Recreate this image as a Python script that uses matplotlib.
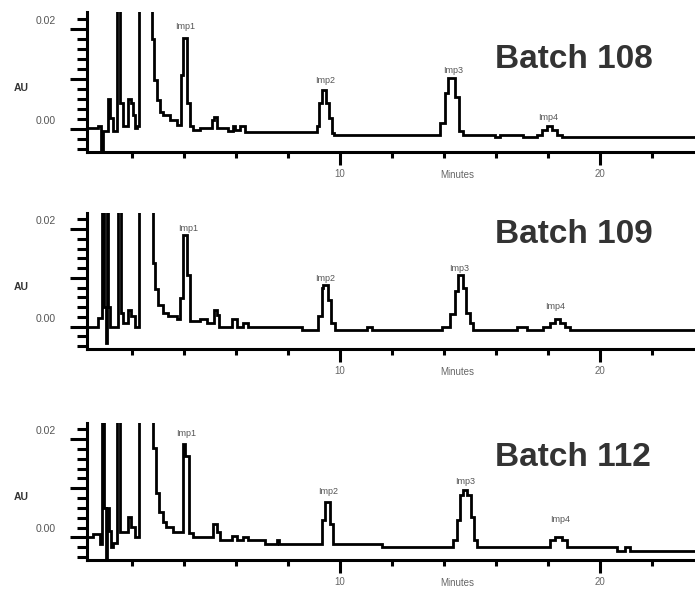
import matplotlib.pyplot as plt
import matplotlib.transforms as mtransforms
from matplotlib.ticker import FixedLocator

plt.rcParams['font.family'] = ['Liberation Sans', 'DejaVu Sans']

OFF = 0.05  # solvent / system peaks that run off the top of the scale

batches = ['Batch 108', 'Batch 109', 'Batch 112']
imp_names = ['Imp1', 'Imp2', 'Imp3', 'Imp4']

# Batch 108 trace (minutes, AU), stepwise
t_108 = [0.28, 0.71, 0.79, 0.90, 1.06, 1.15, 1.28, 1.44, 1.54, 1.67, 1.86, 1.96,
         2.05, 2.12, 2.18, 2.28, 2.76, 2.85, 2.95, 3.08, 3.21, 3.46, 3.72, 3.87,
         3.97, 4.10, 4.23, 4.36, 4.62, 5.06, 5.15, 5.26, 5.71, 5.90, 5.96, 6.15,
         6.35, 9.10, 9.21, 9.29, 9.46, 9.59, 9.68, 9.78, 13.85, 14.04, 14.17, 14.42,
         14.59, 14.74, 15.96, 16.15, 17.05, 17.56, 17.76, 17.95, 18.14, 18.33, 18.53, 23.8]
au_108 = [0.0001, 0.0006, -0.0042, -0.0005, 0.0059, 0.0021, -0.0005, OFF, 0.0051, 0.0006, 0.0059, 0.0051,
          0.0028, 0.0001, 0.0006, OFF, 0.0180, 0.0097, 0.0057, 0.0034, 0.0028, 0.0018, 0.0008, 0.0107,
          0.0182, 0.0051, 0.0006, -0.0002, 0.0001, 0.0018, 0.0024, 0.0001, -0.0005, 0.0006, -0.0003, 0.0005,
          -0.0007, 0.0005, 0.0051, 0.0077, 0.0051, 0.0021, -0.0009, -0.0012, 0.0011, 0.0071, 0.0102, 0.0064,
          -0.0005, -0.0012, -0.0017, -0.0012, -0.0017, -0.0012, -0.0002, 0.0006, -0.0002, -0.0012, -0.0017, -0.0017]

# Batch 109
t_109 = [0.28, 0.71, 0.83, 0.92, 0.99, 1.03, 1.09, 1.15, 1.47, 1.56, 1.67, 1.86,
         1.95, 2.12, 2.28, 2.79, 2.88, 3.01, 3.21, 3.40, 3.72, 3.85, 3.97, 4.10,
         4.23, 4.62, 4.87, 5.15, 5.26, 5.36, 5.83, 6.05, 6.26, 6.47, 8.53, 9.17,
         9.29, 9.36, 9.55, 9.65, 9.81, 11.03, 11.22, 13.91, 14.23, 14.42, 14.55, 14.72,
         14.85, 15.00, 15.10, 16.79, 17.18, 17.82, 18.08, 18.27, 18.46, 18.65, 18.85, 23.8]
au_109 = [0.0, 0.0017, OFF, 0.0040, -0.0034, OFF, 0.0040, 0.0, OFF, 0.0027, 0.0007, 0.0034,
          0.0021, 0.0, OFF, 0.0130, 0.0078, 0.0044, 0.0027, 0.0021, 0.0015, 0.0058, 0.0188, 0.0106,
          0.0012, 0.0015, 0.0008, 0.0034, 0.0024, 0.0, 0.0015, 0.0, 0.0008, 0.0, -0.0007, 0.0021,
          0.0079, 0.0086, 0.0055, 0.0007, -0.0007, 0.0, -0.0007, 0.0, 0.0026, 0.0072, 0.0106, 0.0079,
          0.0027, 0.0007, -0.0007, 0.0, -0.0007, 0.0, 0.0008, 0.0015, 0.0008, 0.0, -0.0007, -0.0007]

# Batch 112
t_112 = [0.28, 0.51, 0.77, 0.83, 0.92, 0.99, 1.03, 1.13, 1.19, 1.28, 1.44, 1.54,
         1.86, 1.95, 2.12, 2.28, 2.82, 2.92, 3.05, 3.18, 3.31, 3.56, 3.95, 4.05,
         4.21, 4.36, 5.13, 5.26, 5.38, 5.83, 6.05, 6.26, 6.47, 7.12, 7.56, 7.67,
         9.29, 9.42, 9.62, 9.74, 11.60, 14.36, 14.49, 14.62, 14.72, 14.90, 15.03, 15.15,
         15.28, 18.08, 18.27, 18.53, 18.72, 20.64, 20.96, 21.15, 23.8]
au_112 = [0.0, 0.0006, -0.0013, OFF, 0.0059, -0.0044, 0.0059, 0.0014, -0.0020, -0.0012, OFF, 0.0011,
          0.0042, 0.0021, 0.0001, OFF, 0.0183, 0.0090, 0.0052, 0.0032, 0.0021, 0.0011, 0.0190, 0.0166,
          0.0008, 0.0, 0.0028, 0.0011, -0.0006, 0.0002, -0.0006, 0.0001, -0.0006, -0.0013, -0.0006, -0.0013,
          0.0035, 0.0073, 0.0028, -0.0013, -0.0019, -0.0006, 0.0035, 0.0087, 0.0097, 0.0087, 0.0042, -0.0006,
          -0.0019, -0.0006, 0.0, -0.0006, -0.0019, -0.0027, -0.0020, -0.0027, -0.0027]

# peak label positions
imp_t_108 = [4.04, 9.42, 14.36, 18.01]
imp_au_108 = [0.0204, 0.0097, 0.0117, 0.0023]
imp_t_109 = [4.14, 9.42, 14.59, 18.27]
imp_au_109 = [0.0202, 0.0099, 0.0120, 0.0041]
imp_t_112 = [4.10, 9.55, 14.81, 18.46]
imp_au_112 = [0.0211, 0.0094, 0.0114, 0.0037]

traces = [(t_108, au_108), (t_109, au_109), (t_112, au_112)]
imps = [(imp_t_108, imp_au_108), (imp_t_109, imp_au_109), (imp_t_112, imp_au_112)]

W, H = 695, 591
fig = plt.figure(figsize=(W / 100, H / 100), dpi=100)

# axes boxes in pixels: left, top, bottom
boxes = [(87, 12, 152), (87, 213, 349), (87, 423, 560)]
title_base = [68, 243, 466]

for i, (box, (t, au), (it, iau)) in enumerate(zip(boxes, traces, imps)):
    left, top, bottom = box
    ax = fig.add_axes([left / W, 1 - bottom / H, (W - left) / W, (bottom - top) / H])
    ax.plot(t, au, drawstyle='steps-post', color='black', lw=2.0, solid_joinstyle='miter')
    ax.set_xlim(0.27, 23.65)
    ax.set_ylim(-0.0046, 0.0233)

    for s in ['top', 'right']:
        ax.spines[s].set_visible(False)
    for s in ['left', 'bottom']:
        ax.spines[s].set_linewidth(2.2)

    ax.set_xticks([10, 20])
    ax.set_xticklabels(['10', '20'])
    ax.xaxis.set_minor_locator(FixedLocator([2, 4, 6, 8, 12, 14, 16, 18, 22]))
    ax.set_yticks([0.0, 0.01, 0.02])
    ax.set_yticklabels(['0.00', '', '0.02'])
    ax.yaxis.set_minor_locator(FixedLocator([-0.004, -0.002, 0.002, 0.004, 0.006, 0.008,
                                             0.012, 0.014, 0.016, 0.018, 0.022]))
    ax.tick_params(axis='x', which='major', direction='out', length=9.4, width=2.2,
                   pad=3, labelsize=7, labelcolor='#666666')
    ax.tick_params(axis='x', which='minor', direction='out', length=4.3, width=2.2)
    ax.tick_params(axis='y', which='major', direction='out', length=12.2, width=2.2,
                   pad=10, labelsize=7.5, labelcolor='#555555')
    ax.tick_params(axis='y', which='minor', direction='out', length=7.2, width=2.2)
    shift = mtransforms.ScaledTranslation(0, 0.09, fig.dpi_scale_trans)
    for lab in ax.get_yticklabels():
        lab.set_transform(lab.get_transform() + shift)

    for name, x, y in zip(imp_names, it, iau):
        ax.text(x, y, name, ha='center', va='center', fontsize=6.5, color='#555555')

    ax.annotate('AU', xy=(0, 0.457), xycoords='axes fraction', xytext=(-47, 0),
                textcoords='offset points', ha='center', va='center',
                fontsize=7.5, color='#333333', fontweight='bold')
    ax.annotate('Minutes', xy=(14.5, 0), xycoords=('data', 'axes fraction'),
                xytext=(0, -16.5), textcoords='offset points', ha='center', va='center',
                fontsize=7, color='#666666')

    fig.text(495 / W, 1 - title_base[i] / H, batches[i], ha='left', va='baseline',
             fontsize=24, fontweight='bold', color='#333333')

fig.savefig('out.png', dpi=100)
